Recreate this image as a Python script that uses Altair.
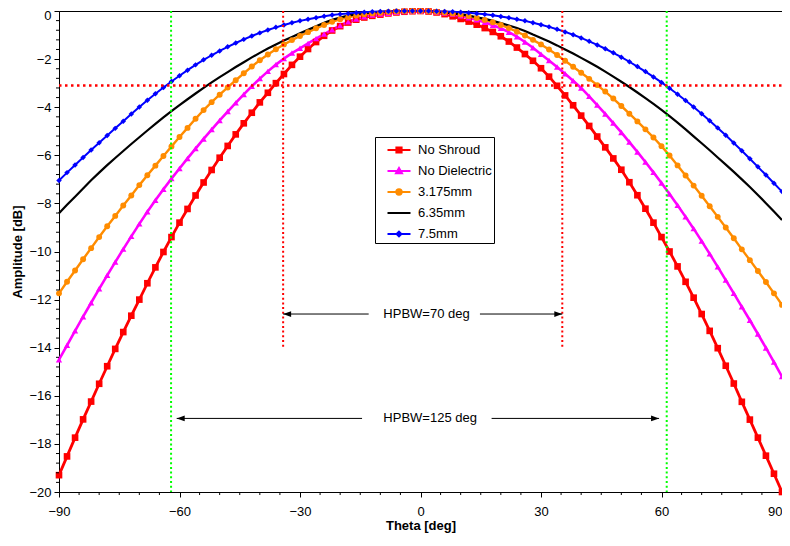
import altair as alt
import pandas as pd

FONT = "Liberation Sans"

# ---------------- data ----------------
theta = list(range(-90, 91, 2))

no_shroud = [
    -19.30, -18.52, -17.74, -16.98, -16.24, -15.50,
    -14.77, -14.05, -13.35, -12.67, -12.00,
    -11.32, -10.66, -10.02, -9.40, -8.80,
    -8.23, -7.67, -7.13, -6.61, -6.10,
    -5.61, -5.13, -4.67, -4.23, -3.80,
    -3.40, -3.00, -2.62, -2.24, -1.90,
    -1.58, -1.29, -1.03, -0.81, -0.63,
    -0.48, -0.36, -0.27, -0.20, -0.15,
    -0.10, -0.06, -0.03, -0.01, 0.00,
    -0.02, -0.06, -0.13, -0.22, -0.33,
    -0.44, -0.57, -0.71, -0.87, -1.05,
    -1.27, -1.52, -1.79, -2.07, -2.38,
    -2.73, -3.11, -3.51, -3.92, -4.35,
    -4.78, -5.22, -5.67, -6.13, -6.60,
    -7.12, -7.66, -8.22, -8.80, -9.40,
    -10.00, -10.62, -11.26, -11.92, -12.60,
    -13.30, -14.02, -14.75, -15.49, -16.25,
    -16.99, -17.74, -18.49, -19.24, -20.00,
]
no_dielectric = [
    -14.50, -13.90, -13.30, -12.71, -12.13, -11.55,
    -10.99, -10.44, -9.90, -9.37, -8.85,
    -8.35, -7.87, -7.41, -6.97, -6.55,
    -6.13, -5.72, -5.32, -4.93, -4.55,
    -4.18, -3.82, -3.47, -3.13, -2.81,
    -2.51, -2.23, -1.98, -1.75, -1.55,
    -1.35, -1.15, -0.96, -0.78, -0.60,
    -0.45, -0.33, -0.24, -0.17, -0.13,
    -0.09, -0.05, -0.02, -0.01, 0.00,
    -0.01, -0.04, -0.08, -0.13, -0.20,
    -0.28, -0.37, -0.47, -0.59, -0.72,
    -0.88, -1.07, -1.29, -1.53, -1.80,
    -2.06, -2.33, -2.61, -2.90, -3.20,
    -3.55, -3.91, -4.28, -4.66, -5.05,
    -5.45, -5.86, -6.28, -6.71, -7.15,
    -7.61, -8.08, -8.56, -9.05, -9.57,
    -10.10, -10.64, -11.19, -11.74, -12.30,
    -12.86, -13.43, -14.01, -14.60, -15.20,
]
shroud_3175 = [
    -11.74, -11.26, -10.79, -10.32, -9.86, -9.40,
    -8.95, -8.52, -8.09, -7.67, -7.24,
    -6.83, -6.43, -6.03, -5.63, -5.24,
    -4.86, -4.48, -4.12, -3.79, -3.48,
    -3.18, -2.88, -2.59, -2.31, -2.05,
    -1.81, -1.59, -1.39, -1.21, -1.04,
    -0.88, -0.72, -0.58, -0.45, -0.34,
    -0.26, -0.19, -0.14, -0.10, -0.07,
    -0.04, -0.02, -0.01, 0.00, 0.00,
    -0.01, -0.03, -0.06, -0.10, -0.15,
    -0.21, -0.29, -0.37, -0.47, -0.58,
    -0.71, -0.86, -1.02, -1.20, -1.39,
    -1.60, -1.83, -2.07, -2.32, -2.57,
    -2.82, -3.08, -3.35, -3.64, -3.95,
    -4.27, -4.59, -4.92, -5.26, -5.62,
    -6.01, -6.42, -6.84, -7.26, -7.68,
    -8.12, -8.56, -9.00, -9.45, -9.91,
    -10.36, -10.81, -11.27, -11.74, -12.22,
]
shroud_635 = [
    -8.41, -8.06, -7.72, -7.38, -7.04, -6.72,
    -6.41, -6.11, -5.82, -5.53, -5.25,
    -4.97, -4.69, -4.42, -4.16, -3.91,
    -3.67, -3.43, -3.20, -2.97, -2.75,
    -2.54, -2.33, -2.13, -1.93, -1.74,
    -1.56, -1.39, -1.23, -1.08, -0.93,
    -0.78, -0.63, -0.49, -0.37, -0.27,
    -0.19, -0.13, -0.09, -0.06, -0.04,
    -0.02, -0.01, 0.00, 0.00, 0.00,
    -0.01, -0.03, -0.06, -0.10, -0.14,
    -0.19, -0.26, -0.33, -0.41, -0.50,
    -0.60, -0.71, -0.83, -0.98, -1.12,
    -1.27, -1.43, -1.60, -1.77, -1.95,
    -2.13, -2.32, -2.52, -2.73, -2.94,
    -3.16, -3.39, -3.62, -3.86, -4.11,
    -4.37, -4.64, -4.92, -5.21, -5.50,
    -5.79, -6.09, -6.39, -6.69, -7.00,
    -7.32, -7.65, -7.99, -8.34, -8.69,
]
shroud_75 = [
    -7.05, -6.72, -6.40, -6.09, -5.78, -5.48,
    -5.18, -4.88, -4.58, -4.28, -3.99,
    -3.71, -3.44, -3.18, -2.93, -2.69,
    -2.46, -2.24, -2.03, -1.84, -1.66,
    -1.49, -1.33, -1.18, -1.04, -0.91,
    -0.79, -0.68, -0.58, -0.49, -0.41,
    -0.34, -0.28, -0.22, -0.17, -0.13,
    -0.10, -0.07, -0.05, -0.03, -0.02,
    -0.01, 0.00, 0.00, 0.00, 0.00,
    0.00, -0.01, -0.02, -0.03, -0.05,
    -0.07, -0.10, -0.14, -0.18, -0.23,
    -0.28, -0.34, -0.41, -0.49, -0.57,
    -0.66, -0.76, -0.87, -0.99, -1.12,
    -1.26, -1.41, -1.57, -1.74, -1.92,
    -2.11, -2.31, -2.52, -2.74, -2.97,
    -3.21, -3.46, -3.72, -3.99, -4.27,
    -4.56, -4.86, -5.17, -5.49, -5.81,
    -6.14, -6.48, -6.82, -7.16, -7.51,
]

series_names = ["No Shroud", "No Dielectric", "3.175mm", "6.35mm", "7.5mm"]
series_values = [no_shroud, no_dielectric, shroud_3175, shroud_635, shroud_75]
series_colors = ["#FF0000", "#FF00FF", "#FF8C00", "#000000", "#0000FF"]
series_widths = [2.8, 2.0, 2.6, 2.0, 2.0]

marker_series = ["No Shroud", "No Dielectric", "3.175mm", "7.5mm"]
marker_shapes = ["square", "triangle-up", "circle", "diamond"]
marker_sizes = [44, 30, 46, 24]

# legend glyphs (stroke only): short line with the series marker on it
legend_glyphs = [
    "M-1.15,0H1.15M-0.26,-0.26H0.26V0.26H-0.26ZM-0.08,-0.08H0.08V0.08H-0.08Z",
    "M-1.15,0H1.15M-0.3,0.22H0.3L0,-0.3ZM-0.1,0.06H0.1L0,-0.1Z",
    "M-1.15,0H1.15M-0.27,0A0.27,0.27 0 1,0 0.27,0A0.27,0.27 0 1,0 -0.27,0Z"
    "M-0.08,0A0.08,0.08 0 1,0 0.08,0A0.08,0.08 0 1,0 -0.08,0Z",
    "M-1.15,0H1.15",
    "M-1.15,0H1.15M0,-0.24L0.24,0L0,0.24L-0.24,0ZM0,-0.06L0.06,0L0,0.06L-0.06,0Z",
]

x_major = [-90, -60, -30, 0, 30, 60, 90]
y_major = [-20, -18, -16, -14, -12, -10, -8, -6, -4, -2, 0]
x_minor = [v for v in range(-85, 90, 5) if v % 30 != 0]
y_minor = [round(-20 + 0.4 * i, 1) for i in range(1, 50) if i % 5 != 0]

# reference lines
hpbw_level = [-3.1]
red_marks_theta = [-34.2, 35.3]
red_marks_bottom = -14.07
green_marks_theta = [-62.1, 61.3]

# annotation arrows (start, end, level)
arrow_start = [-12.9, 14.8, -14.55, 17.7]
arrow_end = [-34.2, 35.3, -60.7, 59.4]
arrow_level = [-12.6, -12.6, -16.94, -16.94]

label_text = ["HPBW=70 deg", "HPBW=125 deg"]
label_theta = [1.5, 2.4]
label_level = [-12.6, -16.94]

# ---------------- frames ----------------
rows = []
for name, vals in zip(series_names, series_values):
    for t, v in zip(theta, vals):
        rows.append({"theta": t, "db": v, "series": name})
df = pd.DataFrame(rows)

xs = alt.Scale(domain=[-90, 90], nice=False, zero=False)
ys = alt.Scale(domain=[-20, 0], nice=False, zero=False)
color_scale = alt.Scale(domain=series_names, range=series_colors)

x_axis = alt.Axis(
    values=x_major, title="Theta [deg]", grid=False,
    titleFont=FONT, titleFontSize=13, titleFontWeight="bold", titleColor="black",
    labelFont=FONT, labelFontSize=13, labelColor="black", labelFlush=False,
    labelAlign={"expr": "datum.value >= 90 ? 'right' : 'center'"},
    labelPadding=8, titlePadding=1, tickSize=5, tickColor="black",
    domainColor="black", format="d",
)
y_axis = alt.Axis(
    values=y_major, title="Amplitude [dB]", grid=False,
    titleFont=FONT, titleFontSize=13, titleFontWeight="bold", titleColor="black",
    labelFont=FONT, labelFontSize=13, labelColor="black", labelFlush=False,
    labelOffset={"expr": "datum.value >= 0 ? 4 : 0"},
    labelPadding=3, titlePadding=4, tickSize=5, tickColor="black",
    domainColor="black", format="d",
)

X = alt.X("theta:Q", scale=xs, axis=x_axis)
Y = alt.Y("db:Q", scale=ys, axis=y_axis)

lines = alt.Chart(df).mark_line().encode(
    x=X, y=Y,
    color=alt.Color("series:N", scale=color_scale, legend=None),
    strokeWidth=alt.StrokeWidth("series:N", scale=alt.Scale(domain=series_names, range=series_widths), legend=None),
    detail="series:N",
)

points = alt.Chart(df).transform_filter(
    alt.FieldOneOfPredicate(field="series", oneOf=marker_series)
).mark_point(filled=True, opacity=1).encode(
    x=X, y=Y,
    color=alt.Color("series:N", scale=color_scale, legend=None),
    shape=alt.Shape("series:N", scale=alt.Scale(domain=marker_series, range=marker_shapes), legend=None),
    size=alt.Size("series:N", scale=alt.Scale(domain=marker_series, range=marker_sizes), legend=None),
)

# minor ticks
xminor = alt.Chart(pd.DataFrame({"theta": x_minor})).mark_rule(
    color="black", strokeWidth=1, y2Offset=3
).encode(x=X, y=alt.datum(-20), y2=alt.datum(-20))
yminor = alt.Chart(pd.DataFrame({"db": y_minor})).mark_rule(
    color="black", strokeWidth=1, x2Offset=-3
).encode(y=Y, x=alt.datum(-90), x2=alt.datum(-90))

hline = alt.Chart(pd.DataFrame({"db": hpbw_level, "theta": [-90], "theta2": [90]})).mark_rule(
    color="#FF0000", strokeWidth=2.5, strokeDash=[2.5, 3.5]
).encode(x=X, x2="theta2:Q", y=Y)

red_v = alt.Chart(pd.DataFrame({
    "theta": red_marks_theta, "db": [0.0] * 2, "db2": [red_marks_bottom] * 2
})).mark_rule(color="#FF0000", strokeWidth=2, strokeDash=[2, 2.7]).encode(x=X, y=Y, y2="db2:Q")

green_v = alt.Chart(pd.DataFrame({
    "theta": green_marks_theta, "db": [0.0] * 2, "db2": [-20.0] * 2
})).mark_rule(color="#00FF00", strokeWidth=2, strokeDash=[2, 2.7]).encode(x=X, y=Y, y2="db2:Q")

arrows_df = pd.DataFrame({"theta": arrow_start, "theta2": arrow_end, "db": arrow_level})
arrow_lines = alt.Chart(arrows_df).mark_rule(color="black", strokeWidth=1).encode(
    x=X, x2="theta2:Q", y=Y
)
heads_left = pd.DataFrame({
    "theta": [e for s, e in zip(arrow_start, arrow_end) if e < s],
    "db": [l for s, e, l in zip(arrow_start, arrow_end, arrow_level) if e < s],
})
heads_right = pd.DataFrame({
    "theta": [e for s, e in zip(arrow_start, arrow_end) if e > s],
    "db": [l for s, e, l in zip(arrow_start, arrow_end, arrow_level) if e > s],
})
head_l = alt.Chart(heads_left).mark_point(
    shape="M0,0L1,-0.36L1,0.36Z", filled=True, size=256, color="black", opacity=1
).encode(x=X, y=Y)
head_r = alt.Chart(heads_right).mark_point(
    shape="M0,0L-1,-0.36L-1,0.36Z", filled=True, size=256, color="black", opacity=1
).encode(x=X, y=Y)

labels = alt.Chart(pd.DataFrame({"theta": label_theta, "db": label_level, "label": label_text})).mark_text(
    font=FONT, fontSize=13, color="black", align="center", baseline="middle"
).encode(x=X, y=Y, text="label:N")

legend = alt.Legend(
    title=None, orient="none", legendX=316, legendY=126,
    padding=2, symbolOffset=11, rowPadding=3, labelOffset=8,
    symbolSize=400, symbolStrokeWidth=2, symbolOpacity=1,
    symbolFillColor="transparent",
    labelFont=FONT, labelFontSize=13, labelColor="black",
    strokeColor="black", fillColor="white", cornerRadius=0,
)
legend_layer = alt.Chart(pd.DataFrame({"series": series_names})).mark_point(
    filled=False, opacity=0
).encode(
    stroke=alt.Stroke("series:N", scale=alt.Scale(domain=series_names, range=series_colors), legend=legend),
    shape=alt.Shape("series:N", scale=alt.Scale(domain=series_names, range=legend_glyphs), legend=legend),
)

chart = alt.layer(
    lines, points, hline, red_v, green_v, arrow_lines, head_l, head_r, labels,
    xminor, yminor, legend_layer,
).resolve_scale(
    shape="independent", stroke="independent"
).properties(
    width=723, height=481,
    padding={"left": 51, "top": 3, "right": 0, "bottom": 41},
    autosize=alt.AutoSizeParams(type="none"),
    background="white",
).configure_view(stroke="black", strokeWidth=1)

chart.save("out.html", embed_options={"renderer": "svg", "actions": False})
